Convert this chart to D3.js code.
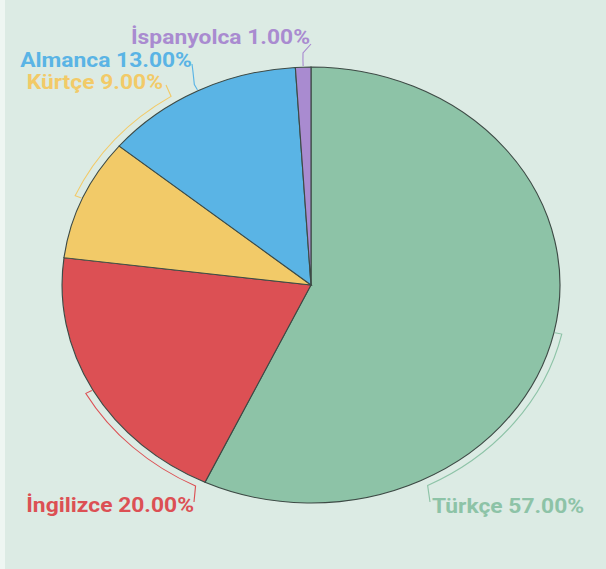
<!DOCTYPE html>
<html>
<head>
<meta charset="utf-8">
<script src="https://cdn.jsdelivr.net/npm/d3@7"></script>
<style>
  body { margin: 0; background: #eef6f2; }
  text { font-family: Roboto, "Noto Sans", sans-serif; font-weight: 700; }
</style>
</head>
<body>
<div class="canva"></div>
<script>
const languages = ["Türkçe", "İngilizce", "Kürtçe", "Almanca", "İspanyolca"];
const shares = [57, 20, 9, 13, 1];
const colors = ["#8dc3a7", "#dc5054", "#f2ca68", "#5ab4e5", "#a98bd0"];

const width = 606, height = 569;
const sx = 1.142;              // the whole chart is stretched sideways
const cx = 311 / sx, cy = 285;
const radius = 218;
const bracketGap = 7;

// leader layout: angle where the bracket ends, tail points and label anchor (page px)
const leaders = [
  {end: 153, tail: [[430, 502]], x: 432, y: 513, anchor: "start"},
  {end: 206.7, tail: [[194, 502]], x: 194, y: 512, anchor: "end"},
  {end: 327, tail: [[166, 85]], x: 163, y: 89, anchor: "end"},
  {end: null, tail: [[193, 72], [192, 64]], x: 192, y: 67, anchor: "end"},
  {end: null, tail: [[303, 53], [311, 44]], x: 310, y: 44, anchor: "end"}
];

const svg = d3.select(".canva").append("svg")
  .attr("width", width)
  .attr("height", height);

svg.append("rect")
  .attr("x", 5).attr("y", 0)
  .attr("width", width - 5).attr("height", height)
  .attr("fill", "#dcebe4");

const chart = svg.append("g")
  .attr("transform", `scale(${sx},1) translate(${cx},${cy})`);

const pie = d3.pie().sort(null).value(d => d);
const arcs = pie(shares);
const arc = d3.arc().innerRadius(0).outerRadius(radius);

chart.selectAll("path.slice")
  .data(arcs)
  .enter().append("path")
  .attr("class", "slice")
  .attr("d", arc)
  .attr("fill", (d, i) => colors[i])
  .attr("stroke", "#3d4a45")
  .attr("stroke-width", 1);

const pt = (a, r) => [r * Math.sin(a), -r * Math.cos(a)];
const fromPage = p => [p[0] / sx - cx, p[1] - cy];
const rad = deg => deg * Math.PI / 180;

chart.selectAll("path.leader")
  .data(arcs)
  .enter().append("path")
  .attr("class", "leader")
  .attr("fill", "none")
  .attr("stroke", (d, i) => colors[i])
  .attr("stroke-width", 1)
  .attr("d", (d, i) => {
    const L = leaders[i];
    const mid = (d.startAngle + d.endAngle) / 2;
    const R = radius + bracketGap;
    const a = pt(mid, radius + 1);
    const b = pt(mid, R);
    let s = `M${a}L${b}`;
    if (L.end !== null) {
      const e = rad(L.end);
      const c = pt(e, R);
      const sweep = e > mid ? 1 : 0;
      s += `A${R},${R} 0 0,${sweep} ${c}`;
    }
    L.tail.forEach(p => { s += `L${fromPage(p)}`; });
    return s;
  });

chart.selectAll("text.label")
  .data(arcs)
  .enter().append("text")
  .attr("class", "label")
  .attr("x", (d, i) => fromPage([leaders[i].x, 0])[0])
  .attr("y", (d, i) => leaders[i].y - cy)
  .attr("text-anchor", (d, i) => leaders[i].anchor)
  .attr("font-size", 20)
  .attr("fill", (d, i) => colors[i])
  .text((d, i) => `${languages[i]} ${shares[i].toFixed(2)}%`);
</script>
</body>
</html>
